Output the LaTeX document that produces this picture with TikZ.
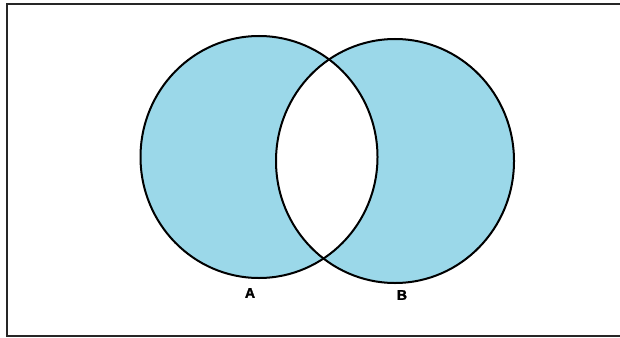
\documentclass[tikz,border=0pt]{standalone}
\usepackage{fontspec}
\setmainfont{Liberation Sans}
\newfontfamily\heavysans{Liberation Sans Bold}[FakeBold=2]
\definecolor{setblue}{RGB}{155,216,233}
\begin{document}
\begin{tikzpicture}[x=1pt,y=-1pt, every node/.style={inner sep=0pt, font=\heavysans\fontsize{14}{14}\selectfont}]
	\clip (0,0) rectangle (620,337);
	\fill[white] (0,0) rectangle (620,337);
	\draw[line width=2pt, black!85] (7,4.5) rectangle (640,335.5);
	\fill[setblue, even odd rule] (259,157) ellipse (118.5 and 121) (395,161) ellipse (119 and 122);
	\foreach \cx/\cy/\ax/\ay in {259/157/118.5/121, 395/161/119/122} {
		\draw[line width=2pt] (\cx,\cy) ellipse [x radius=\ax, y radius=\ay];
	}
	\node (setA) at (250,293) {A};
	\node (setB) at (402,295) {B};
\end{tikzpicture}
\end{document}
